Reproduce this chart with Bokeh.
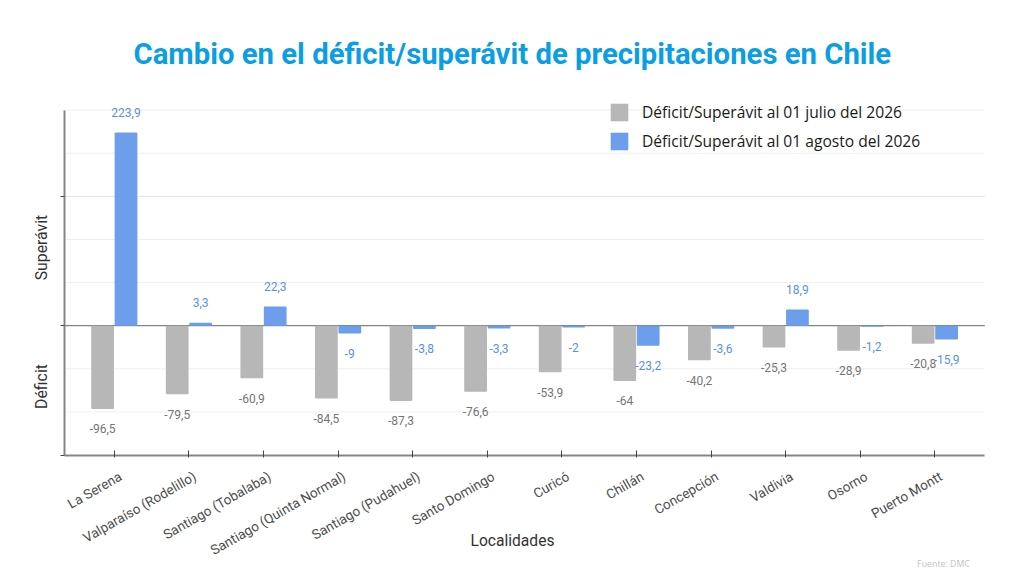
from bokeh.core.properties import value
from bokeh.embed import file_html
from bokeh.resources import INLINE
from bokeh.plotting import figure
from bokeh.models import (ColumnDataSource, Range1d, FixedTicker, LabelSet, Label,
                          Legend, LegendItem, LinearAxis)
from bokeh.transform import dodge

TITLE = "Cambio en el déficit/superávit de precipitaciones en Chile"
categories = ["La Serena", "Valparaíso (Rodelillo)", "Santiago (Tobalaba)", "Santiago (Quinta Normal)",
              "Santiago (Pudahuel)", "Santo Domingo", "Curicó", "Chillán", "Concepción", "Valdivia",
              "Osorno", "Puerto Montt"]
julio = [-96.5, -79.5, -60.9, -84.5, -87.3, -76.6, -53.9, -64, -40.2, -25.3, -28.9, -20.8]
agosto = [223.9, 3.3, 22.3, -9, -3.8, -3.3, -2, -23.2, -3.6, 18.9, -1.2, -15.9]
serie_julio = "Déficit/Superávit al 01 julio del 2026"
serie_agosto = "Déficit/Superávit al 01 agosto del 2026"
y_ticks = [-150, 0, 150]
grid_minor = [-100, -50, 50, 100, 200, 250]
grid_major = [150]

GRAY, BLUE = "#b7b7b7", "#6d9eeb"
idx = list(range(len(categories)))

# The frame covers the canvas below the title, so outer texts are not clipped;
# the axes are pinned at the visual plot limits.
W, H = 1024, 585
TOP = 100
PX_X = 74.6                # pixels per category
PX_Y = 345 / 400           # pixels per value unit
X0_PX, Y0_PX = 113.8, 325.2  # pixels of the first category and of value 0
XL, XR = -0.67, 11.67      # visual limits of the plot
YB, YT = -150, 250


def fmt(v):
    return f"{v:g}".replace(".", ",")


def make_source(vals):
    return ColumnDataSource(dict(idx=idx, val=vals, txt=[fmt(v) for v in vals],
                                 off=[20 if v >= 0 else -20 for v in vals]))


x_rng = Range1d(-X0_PX / PX_X, (W - X0_PX) / PX_X)
p = figure(width=W, height=H, output_backend="svg", toolbar_location=None,
           x_range=x_rng,
           y_range=Range1d(-(H - Y0_PX) / PX_Y, (Y0_PX - TOP) / PX_Y),
           min_border_left=0, min_border_right=0, min_border_top=TOP, min_border_bottom=0,
           outline_line_color=None, background_fill_color="white", border_fill_color="white")
p.grid.visible = False

for ticks, col in ((grid_minor, "#efefef"), (grid_major, "#e3e3e3"), ([0], "#666666")):
    p.segment(x0=[XL] * len(ticks), x1=[XR] * len(ticks), y0=ticks, y1=ticks,
              line_color=col, line_width=1, level="underlay")

ax = p.xaxis[0]
ax.ticker = FixedTicker(ticks=idx)
ax.fixed_location = YB
ax.bounds = (XL, XR)
ax.major_label_text_font_size = "0px"
ax.major_label_text_color = None
ax.major_label_standoff = 0
ax.axis_line_color = "#858585"
ax.axis_line_width = 2
ax.major_tick_line_color = "#444444"
ax.major_tick_in = 5
ax.major_tick_out = 2
ax.minor_tick_line_color = None

# tick labels, on a companion axis shifted a few pixels to the right of the ticks
SHIFT = 6 / PX_X
p.extra_x_ranges = {"labels": Range1d(x_rng.start - SHIFT, x_rng.end - SHIFT)}
lx = LinearAxis(x_range_name="labels", ticker=FixedTicker(ticks=idx), fixed_location=YB,
                major_label_overrides={i: c for i, c in enumerate(categories)},
                major_label_orientation=0.52, major_label_text_font="Roboto",
                major_label_text_font_size="13.5px", major_label_text_color="#4d4d4d",
                major_label_standoff=14, axis_line_color=None, major_tick_line_color=None,
                minor_tick_line_color=None)
p.add_layout(lx, "below")

ay = p.yaxis[0]
ay.ticker = FixedTicker(ticks=y_ticks)
ay.fixed_location = XL
ay.bounds = (YB, YT)
ay.major_label_text_font_size = "0px"
ay.major_label_text_color = None
ay.axis_line_color = "#858585"
ay.axis_line_width = 2
ay.major_tick_line_color = "#444444"
ay.major_tick_in = 0
ay.major_tick_out = 4
ay.minor_tick_line_color = None

sj, sa = make_source(julio), make_source(agosto)
OFF, BW = 0.157, 0.305
r1 = p.vbar(x=dodge("idx", -OFF), top="val", bottom=0, width=BW, source=sj,
            fill_color=GRAY, line_color=None, border_radius=1)
r2 = p.vbar(x=dodge("idx", OFF), top="val", bottom=0, width=BW, source=sa,
            fill_color=BLUE, line_color=None, border_radius=1)

for src, off, col in ((sj, -OFF, "#757575"), (sa, OFF, "#5b8fe6")):
    p.add_layout(LabelSet(x=dodge("idx", off), y="val", text="txt", source=src,
                          y_offset="off", text_align="center", text_baseline="middle",
                          text_font=value("Roboto"), text_font_size="12px", text_color=col))

leg = Legend(items=[LegendItem(label=serie_julio, renderers=[r1]), LegendItem(label=serie_agosto, renderers=[r2])],
             orientation="vertical", border_line_color=None, background_fill_alpha=0,
             label_text_font="Open Sans", label_text_font_size="15.6px", label_text_color="#1a1a1a",
             glyph_width=22, glyph_height=22, label_standoff=12, spacing=7, padding=0, margin=0,
             label_height=22, label_text_baseline="middle", location=(608, H - 152))
p.add_layout(leg)

p.title.text = TITLE
p.title.align = "left"
p.title.vertical_align = "top"
p.title.offset = 133
p.title.standoff = 56
p.title.text_font = "Roboto"
p.title.text_font_style = "bold"
p.title.text_font_size = "29.3px"
p.title.text_color = "#0a9ee2"


def lab(text, x, y, size, color, angle=0, font="Roboto"):
    p.add_layout(Label(x=x, y=H - y, x_units="screen", y_units="screen", text=text, angle=angle,
                       text_align="center", text_baseline="middle", text_font=font,
                       text_font_size=size, text_color=color))


lab("Superávit", 41, 247, "15.8px", "#333333", 1.5708)
lab("Déficit", 41, 386, "15.8px", "#333333", 1.5708)
lab("Localidades", 512, 540, "15.6px", "#333333")
lab("Fuente: DMC", 943, 563, "8.8px", "#c4c4c4", font="Open Sans")

open("out.html", "w").write(file_html(p, INLINE))
